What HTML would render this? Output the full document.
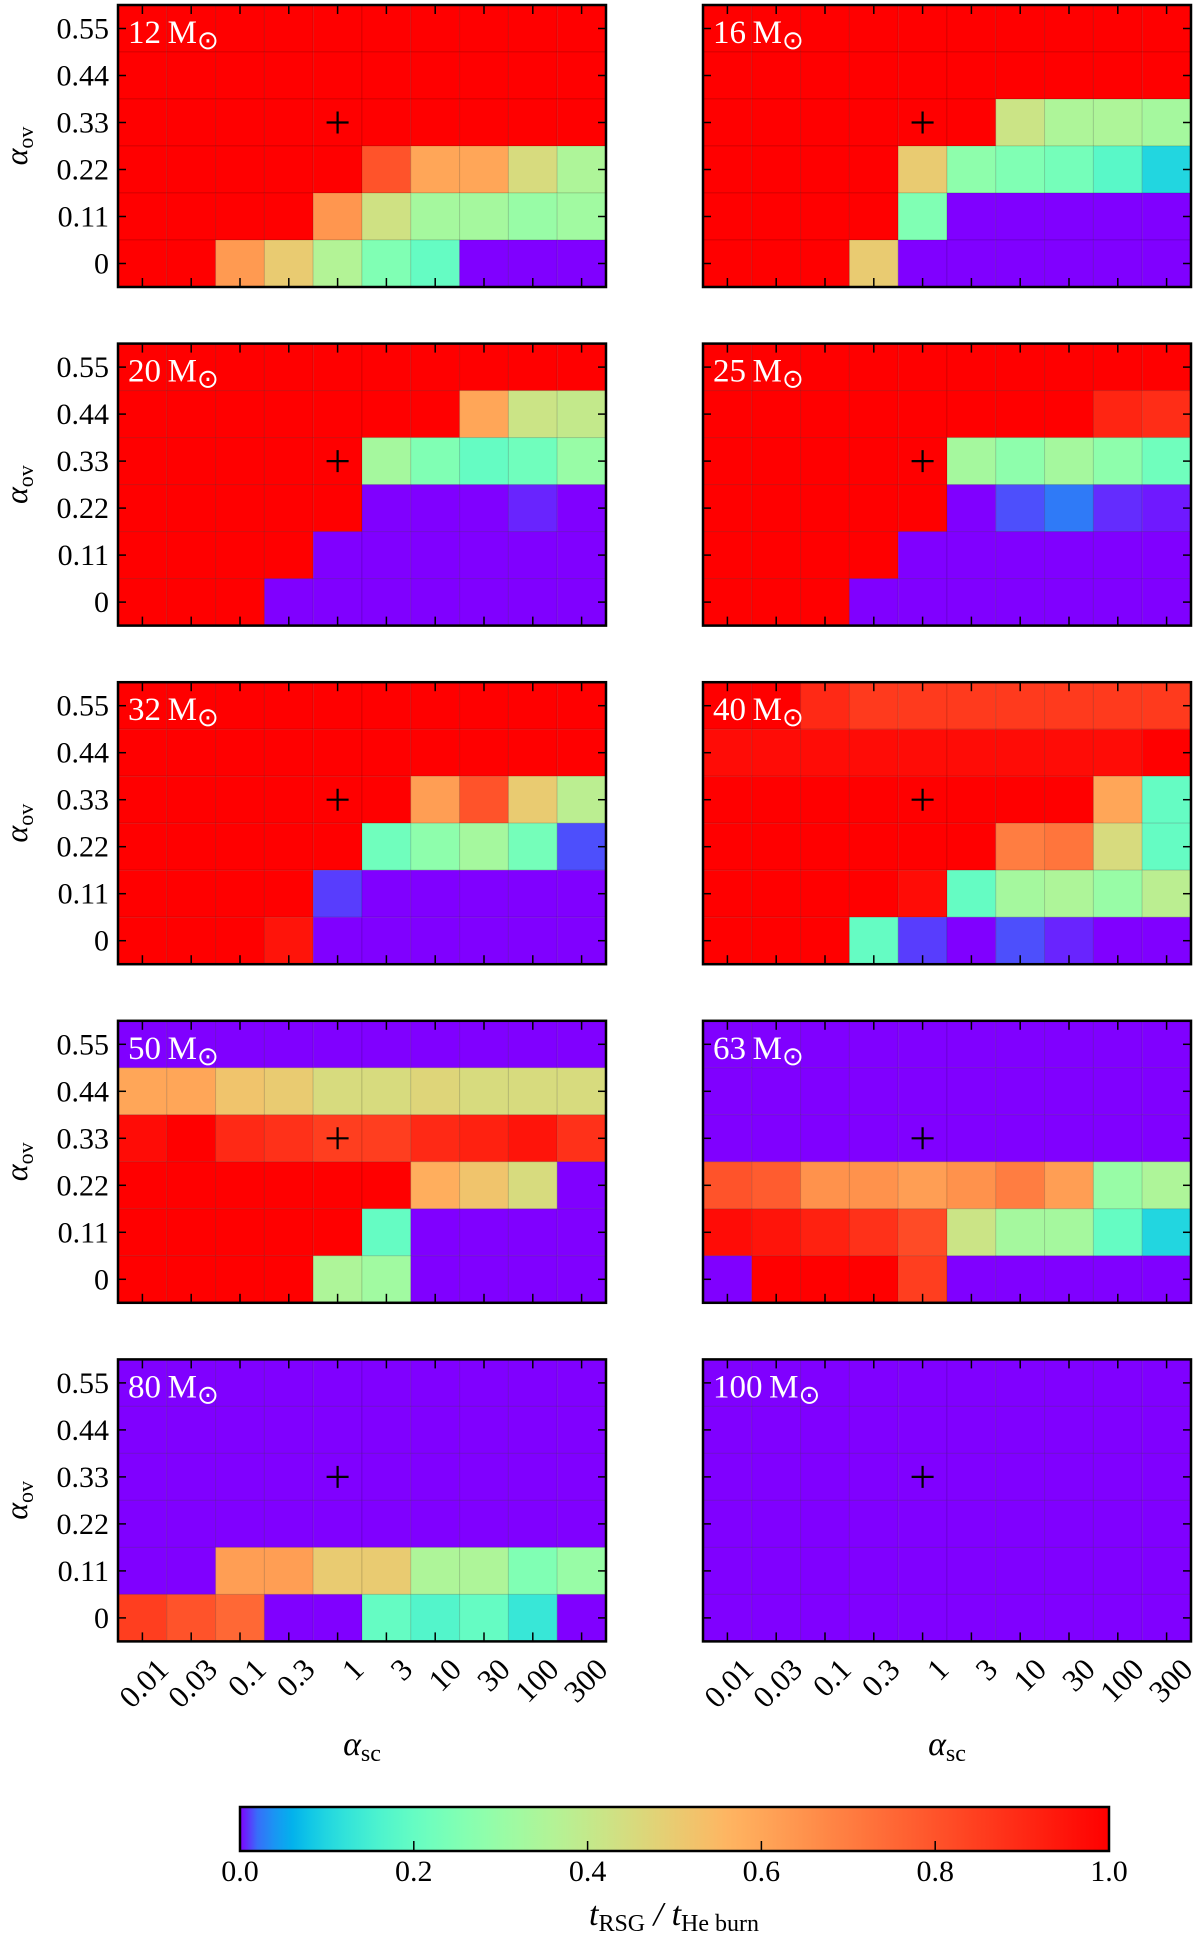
<!DOCTYPE html>
<html><head><meta charset="utf-8"><style>
html,body{margin:0;padding:0;background:#fff;}
svg text{font-family:"Liberation Serif",serif;}
</style></head><body>
<svg id="fig" width="1200" height="1939" viewBox="0 0 1200 1939" xmlns="http://www.w3.org/2000/svg">
<defs><linearGradient id="cbgrad" x1="0" x2="1" y1="0" y2="0"></linearGradient></defs>
</svg>
<script>
const xTickLabels = ["0.01","0.03","0.1","0.3","1","3","10","30","100","300"];
const yTickLabels = ["0.55","0.44","0.33","0.22","0.11","0"];
const panelMasses = ["12","16","20","25","32","40","50","63","80","100"];
const cbTicks = [0.0,0.2,0.4,0.6,0.8,1.0];
// rows from top (0.55) to bottom (0)
const m12 = [[1,1,1,1,1,1,1,1,1,1],[1,1,1,1,1,1,1,1,1,1],[1,1,1,1,1,1,1,1,1,1],
 [1,1,1,1,1,0.8,0.6,0.6,0.45,0.35],[1,1,1,1,0.64,0.43,0.33,0.33,0.3,0.32],[1,1,0.63,0.5,0.36,0.25,0.2,0,0,0]];
const m16 = [[1,1,1,1,1,1,1,1,1,1],[1,1,1,1,1,1,1,1,1,1],[1,1,1,1,1,1,0.42,0.35,0.35,0.33],
 [1,1,1,1,0.5,0.28,0.25,0.23,0.18,0.1],[1,1,1,1,0.25,0,0,0,0,0],[1,1,1,0.5,0,0,0,0,0,0]];
const m20 = [[1,1,1,1,1,1,1,1,1,1],[1,1,1,1,1,1,1,0.6,0.42,0.4],[1,1,1,1,1,0.33,0.25,0.2,0.22,0.3],
 [1,1,1,1,1,0,0,0,0.002,0],[1,1,1,1,0,0,0,0,0,0],[1,1,1,0,0,0,0,0,0,0]];
const m25 = [[1,1,1,1,1,1,1,1,1,1],[1,1,1,1,1,1,1,1,0.91,0.89],[1,1,1,1,1,0.33,0.28,0.33,0.28,0.22],
 [1,1,1,1,1,0,0.01,0.025,0.003,0.001],[1,1,1,1,0,0,0,0,0,0],[1,1,1,0,0,0,0,0,0,0]];
const m32 = [[1,1,1,1,1,1,1,1,1,1],[1,1,1,1,1,1,1,1,1,1],[1,1,1,1,1,1,0.62,0.8,0.5,0.38],
 [1,1,1,1,1,0.22,0.28,0.33,0.23,0.01],[1,1,1,1,0.006,0,0,0,0,0],[1,1,1,0.95,0,0,0,0,0,0]];
const m40 = [[1,1,0.9,0.86,0.86,0.86,0.86,0.86,0.86,0.86],[0.97,0.97,0.97,0.97,0.97,0.97,0.97,0.97,0.97,1],[1,1,1,1,1,1,1,1,0.6,0.2],
 [1,1,1,1,1,1,0.7,0.72,0.45,0.2],[1,1,1,1,0.97,0.2,0.33,0.35,0.3,0.38],[1,1,1,0.2,0.006,0,0.01,0.002,0,0]];
const m50 = [[0,0,0,0,0,0,0,0,0,0],[0.6,0.6,0.52,0.5,0.45,0.45,0.47,0.45,0.45,0.45],[0.97,1,0.9,0.88,0.85,0.85,0.9,0.92,0.95,0.88],
 [1,1,1,1,1,1,0.58,0.52,0.45,0],[1,1,1,1,1,0.2,0,0,0,0],[1,1,1,1,0.35,0.32,0,0,0,0]];
const m63 = [[0,0,0,0,0,0,0,0,0,0],[0,0,0,0,0,0,0,0,0,0],[0,0,0,0,0,0,0,0,0,0],
 [0.8,0.78,0.65,0.65,0.62,0.65,0.7,0.62,0.3,0.35],[0.97,0.95,0.92,0.88,0.82,0.42,0.33,0.33,0.2,0.1],[0,1,1,1,0.85,0,0,0,0,0]];
const m80 = [[0,0,0,0,0,0,0,0,0,0],[0,0,0,0,0,0,0,0,0,0],[0,0,0,0,0,0,0,0,0,0],
 [0,0,0,0,0,0,0,0,0,0],[0,0,0.62,0.62,0.5,0.5,0.35,0.35,0.25,0.3],[0.85,0.8,0.75,0,0,0.2,0.17,0.2,0.13,0]];
const m100 = [[0,0,0,0,0,0,0,0,0,0],[0,0,0,0,0,0,0,0,0,0],[0,0,0,0,0,0,0,0,0,0],
 [0,0,0,0,0,0,0,0,0,0],[0,0,0,0,0,0,0,0,0,0],[0,0,0,0,0,0,0,0,0,0]];
const panelData = [m12,m16,m20,m25,m32,m40,m50,m63,m80,m100];
const refCol = 4, refRow = 2;

const NS="http://www.w3.org/2000/svg";
const svg=document.getElementById('fig');
function mk(tag,attrs,parent){const e=document.createElementNS(NS,tag);for(const k in attrs)e.setAttribute(k,attrs[k]);(parent||svg).appendChild(e);return e;}
function rainbow(v){v=Math.sqrt(Math.max(0,Math.min(1,v)));
 const r=Math.min(1,Math.abs(2*v-0.5)), g=Math.sin(v*Math.PI), b=Math.cos(v*Math.PI/2);
 return `rgb(${Math.round(r*255)},${Math.round(g*255)},${Math.round(b*255)})`;}

const PX=[118,703], PW=488, PH=282, PY0=5, PDY=338.6;
const nC=10,nR=6;
function xScale(px,c){return px+c*PW/nC;}
function yScale(py,r){return py+r*PH/nR;}

panelData.forEach((data,i)=>{
 const col=i%2,row=Math.floor(i/2);
 const px=PX[col],py=PY0+row*PDY;
 const g=mk('g',{});
 
 
 data.forEach((rw,r)=>rw.forEach((v,c)=>{
  const cell=mk('rect',{x:xScale(px,c),y:yScale(py,r),width:PW/nC,height:PH/nR,fill:rainbow(v),stroke:'rgba(0,0,0,0.12)','stroke-width':1},g);
  
  
 }));
 for(let c=0;c<nC;c++){const x=xScale(px,c+0.5);
  mk('line',{x1:x,x2:x,y1:py+PH,y2:py+PH-9,stroke:'#000','stroke-width':1.5},g);
  mk('line',{x1:x,x2:x,y1:py,y2:py+9,stroke:'#000','stroke-width':1.5},g);}
 for(let r=0;r<nR;r++){const y=yScale(py,r+0.5);
  mk('line',{x1:px,x2:px+8,y1:y,y2:y,stroke:'#000','stroke-width':1.5},g);
  mk('line',{x1:px+PW,x2:px+PW-8,y1:y,y2:y,stroke:'#000','stroke-width':1.5},g);}
 mk('rect',{x:px,y:py,width:PW,height:PH,fill:'none',stroke:'#000','stroke-width':2.5},g);
 const cx=xScale(px,refCol+0.5),cy=yScale(py,refRow+0.5);
 const pm=mk('path',{d:`M${cx-11},${cy}H${cx+11}M${cx},${cy-11}V${cy+11}`,stroke:'#000','stroke-width':2.2,fill:'none'},g);
 
 
 const lbl=mk('text',{x:px+10,y:py+38,fill:'#fff','font-size':33},g);
 lbl.innerHTML=panelMasses[i]+'\u2009M<tspan font-size="26" dy="6">\u2299</tspan>';
 
 
 if(col===0){
  yTickLabels.forEach((t,r)=>{const tx=mk('text',{x:px-9,y:yScale(py,r+0.5)+10,'text-anchor':'end','font-size':30},g);tx.textContent=t;
   
   });
  const yl=mk('text',{x:0,y:0,transform:`translate(27,${py+PH/2}) rotate(-90)`,'text-anchor':'middle','font-size':32,'font-style':'italic'},g);
  yl.innerHTML='α<tspan font-size="22" font-style="normal" dy="6">ov</tspan>';
  
  
 }
 if(row===4){
  xTickLabels.forEach((t,c)=>{const x=xScale(px,c+0.5)+12,y=py+PH+14;
   const tx=mk('text',{x:0,y:0,transform:`translate(${x},${y}) rotate(-45)`,'text-anchor':'end','dominant-baseline':'hanging','font-size':31},g);tx.textContent=t;
   
   });
  const xl=mk('text',{x:px+PW/2,y:1755,'text-anchor':'middle','font-size':34,'font-style':'italic'},g);
  xl.innerHTML='α<tspan font-size="24" font-style="normal" dy="6">sc</tspan>';
  
  
 }
});
const grad=document.getElementById('cbgrad');
for(let k=0;k<=50;k++){mk('stop',{offset:k/50,'stop-color':rainbow(k/50)},grad);}
const CBX=240,CBW=869,CBY=1807,CBH=44;
function cbScale(v){return CBX+v*CBW;}
const cb=mk('rect',{x:CBX,y:CBY,width:CBW,height:CBH,fill:'url(#cbgrad)',stroke:'#000','stroke-width':2.5});


cbTicks.forEach(t=>{const x=cbScale(t);
 mk('line',{x1:x,x2:x,y1:CBY+CBH,y2:CBY+CBH-10,stroke:'#000','stroke-width':1.5});
 const tx=mk('text',{x:x,y:1881,'text-anchor':'middle','font-size':30});tx.textContent=t.toFixed(1);
 
 });
const cl=mk('text',{x:674,y:1925,'text-anchor':'middle','font-size':34,'font-style':'italic'});
cl.innerHTML='t<tspan font-size="24" font-style="normal" dy="6">RSG</tspan><tspan dy="-6"> / t</tspan><tspan font-size="24" font-style="normal" dy="6">He burn</tspan>';


</script>
</body></html>
